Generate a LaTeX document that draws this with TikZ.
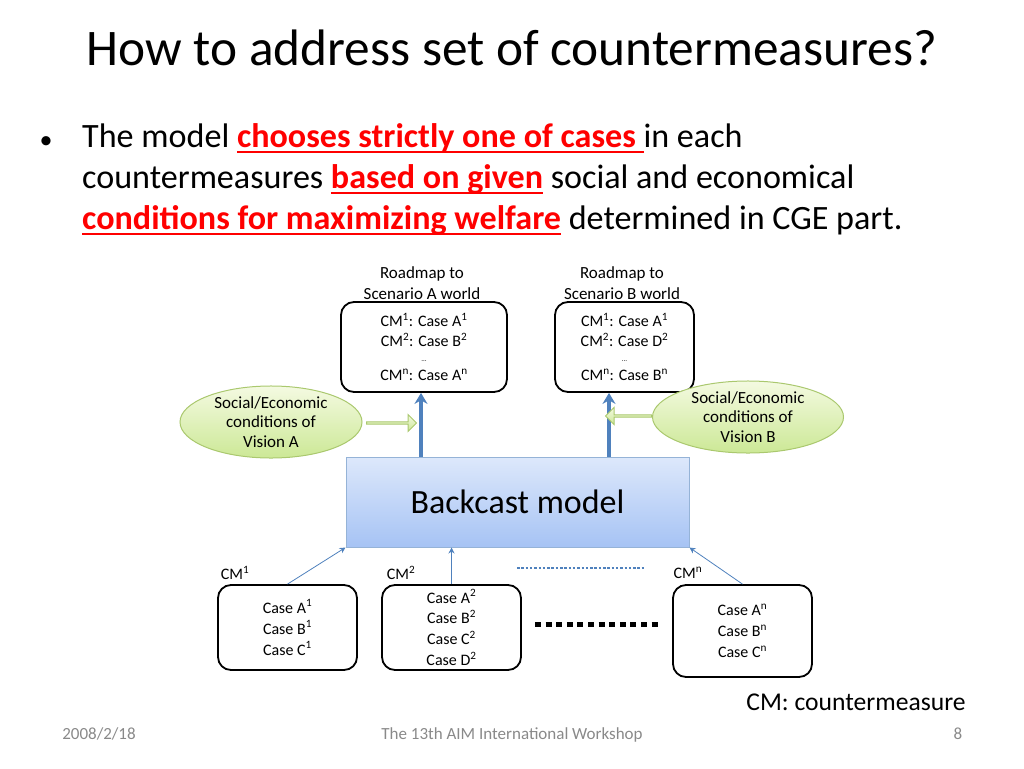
\documentclass[tikz,border=0pt]{standalone}
\usepackage{fontspec}
\setmainfont{Carlito}
\usetikzlibrary{shapes.geometric,shapes.arrows,arrows.meta}
\definecolor{hlred}{RGB}{255,0,0}
\definecolor{ablue}{RGB}{79,129,189}
\definecolor{bmtop}{RGB}{221,232,251}
\definecolor{bmbot}{RGB}{166,195,244}
\definecolor{bmedge}{RGB}{149,179,215}
\definecolor{gtop}{RGB}{244,250,225}
\definecolor{gbot}{RGB}{204,232,150}
\definecolor{gedge}{RGB}{170,200,110}
\definecolor{foot}{RGB}{137,137,137}
\newcommand{\ulbox}[1]{\setbox0\hbox{#1}\rlap{\rule[-6pt]{\wd0}{2pt}}\box0}
\newcommand{\hlt}[1]{\textcolor{hlred}{\bfseries\ulbox{#1}}}
\newcommand{\sps}[1]{\textsuperscript{#1}}
\tikzset{
  small/.style={font=\fontsize{16}{20.5}\selectfont},
  cmbox/.style={draw=black, line width=1.8, rounded corners=13, align=center, small, inner sep=0},
  ellip/.style={ellipse, draw=gedge, line width=1, top color=gtop, bottom color=gbot, align=center, inner sep=0,
     font=\fontsize{17}{19.5}\selectfont},
  garrow/.style={single arrow, draw=gedge, line width=1, top color=gtop, bottom color=gbot,
     minimum width=17, single arrow head extend=3.5, single arrow head indent=0, inner sep=0},
  thick arrow/.style={draw=ablue, line width=3.5, -{Stealth[length=11,width=13]}},
  thin arrow/.style={draw=ablue, line width=0.8, -{Stealth[length=6,width=6]}},
  line txt/.style={anchor=base west, inner sep=0, font=\fontsize{34.1}{41}\selectfont},
  foottxt/.style={anchor=base, inner sep=0, text=foot, font=\fontsize{17}{20}\selectfont},
  roadmap/.style={align=center, inner sep=0, font=\fontsize{17}{21}\selectfont},
}
\begin{document}
\begin{tikzpicture}[x=1pt,y=-1pt]
\useasboundingbox (0,0) rectangle (1024,768);

% title
\node[anchor=base, inner sep=0, font=\fontsize{51.3}{60}\selectfont] (title) at (512,66) {How to address set of countermeasures?};

% bullet text
\node[anchor=base, inner sep=0, font=\fontsize{26}{30}\selectfont] (bullet) at (46,148) {•};
\node[line txt] (l1) at (82,147) {The model \hlt{chooses strictly one of cases }in each};
\node[line txt] (l2) at (82,188) {countermeasures \hlt{based on given} social and economical};
\node[line txt] (l3) at (82,229) {\hlt{conditions for maximizing welfare} determined in CGE part.};

% top boxes
\node[cmbox, minimum width=166, minimum height=90] (boxA) at (424,347)
  {CM\sps{1}: Case A\sps{1}\\CM\sps{2}: Case B\sps{2}\\[-6pt]{\fontsize{7}{8}\selectfont …}\\[-1pt]CM\sps{n}: Case A\sps{n}};
\node[cmbox, minimum width=139, minimum height=90] (boxB) at (624.5,347)
  {CM\sps{1}: Case A\sps{1}\\CM\sps{2}: Case D\sps{2}\\[-6pt]{\fontsize{7}{8}\selectfont …}\\[-1pt]CM\sps{n}: Case B\sps{n}};
\node[roadmap] (rA) at (422,283) {Roadmap to\\Scenario A world};
\node[roadmap] (rB) at (622,283) {Roadmap to\\Scenario B world};

% backcast model
\node[draw=bmedge, line width=1, top color=bmtop, bottom color=bmbot, minimum width=343, minimum height=90,
  font=\fontsize{34}{40}\selectfont] (bm) at (517.5,502) {Backcast model};

% ellipses
\node[ellip, minimum width=182, minimum height=59] (eA) at (271,422) {Social/Economic\\conditions of\\Vision A};
\node[ellip, minimum width=191, minimum height=58] (eB) at (748,417) {Social/Economic\\conditions of\\Vision B};

% thick blue arrows
\coordinate (xa) at (421,0);
\coordinate (xb) at (609,0);
\draw[thick arrow] (bm.north -| xa) -- (boxA.south -| xa);
\draw[thick arrow] (bm.north -| xb) -- (boxB.south -| xb);

% green block arrows
\node[garrow, minimum height=50, anchor=west] (gA) at (366,423) {};
\node[garrow, minimum height=46, shape border rotate=180, anchor=east] (gB) at (652,416) {};

% bottom boxes
\node[cmbox, minimum width=139, minimum height=85, font=\fontsize{16}{21}\selectfont] (b1) at (287.5,627.5)
  {Case A\sps{1}\\Case B\sps{1}\\Case C\sps{1}};
\node[cmbox, minimum width=139, minimum height=85, font=\fontsize{16}{20.7}\selectfont] (b2) at (451.5,627.5)
  {Case A\sps{2}\\Case B\sps{2}\\Case C\sps{2}\\Case D\sps{2}};
\node[cmbox, minimum width=139, minimum height=92, font=\fontsize{16}{21}\selectfont] (bn) at (742.5,631)
  {Case A\sps{n}\\Case B\sps{n}\\Case C\sps{n}};

\node[small, inner sep=0] (c1) at (235,573) {CM\sps{1}};
\node[small, inner sep=0] (c2) at (401,573) {CM\sps{2}};
\node[small, inner sep=0] (cn) at (688,573) {CM\sps{n}};

% thin arrows
\draw[thin arrow] (b1.north) -- (bm.south west);
\draw[thin arrow] (b2.north) -- (bm.south -| b2.north);
\draw[thin arrow] (bn.north) -- (bm.south east);

% dotted lines
\coordinate (d1s) at (517,568);
\coordinate (d1e) at (645,568);
\draw[ablue, line width=2.5, dash pattern=on 2.5 off 1.8] (d1s) -- (d1e);
\coordinate (d2s) at (535,624);
\coordinate (d2e) at (662,624);
\draw[black, line width=5, dash pattern=on 6 off 4.6] (d2s) -- (d2e);

% note and footer
\node[anchor=base, inner sep=0, font=\fontsize{25.6}{30}\selectfont] (note) at (856,710) {CM: countermeasure};
\node[foottxt] (f1) at (99,739) {2008/2/18};
\node[foottxt] (f2) at (512,739) {The 13th AIM International Workshop};
\node[foottxt] (f3) at (958,739) {8};
\end{tikzpicture}
\end{document}
